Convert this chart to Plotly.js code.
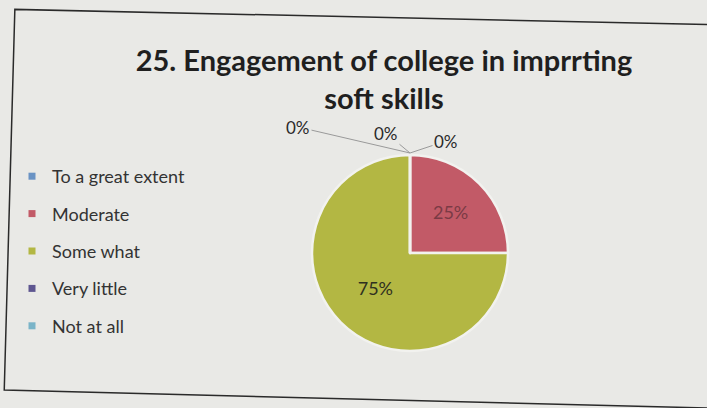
<!DOCTYPE html>
<html>
<head>
<meta charset="utf-8">
<script src="https://cdn.plot.ly/plotly-3.0.1.min.js"></script>
<style>html,body{margin:0;padding:0;background:#e9e9e6;}#chart{width:707px;height:408px;}</style>
</head>
<body>
<div id="chart"></div>
<script>
const categories = ["To a great extent", "Moderate", "Some what", "Very little", "Not at all"];
const values = [0, 25, 75, 0, 0];
const colors = ["#6a93c4", "#c25a67", "#b3b743", "#5e5690", "#7ab4c8"];
const titleText = "25. Engagement of college in imprrting<br>soft skills";

const total = values.reduce((a, b) => a + b, 0);
const pctText = v => Math.round(100 * v / total) + "%";

const pie = {
  type: "pie",
  labels: categories,
  values: values,
  sort: false,
  direction: "clockwise",
  rotation: 0,
  showlegend: false,
  marker: {colors: colors, line: {color: "#f2f2ef", width: 2.5}},
  texttemplate: values.map(v => v > 0 ? "%{percent:.0%}" : ""),
  textposition: "inside",
  insidetextorientation: "horizontal",
  insidetextfont: {family: "Lato, sans-serif", size: 18, color: ["#333", "#7a3a45", "#2f3020", "#333", "#333"]},
  hoverinfo: "label+percent",
  domain: {x: [312 / 707, 508 / 707], y: [1 - 351 / 408, 1 - 155 / 408]}
};

const legendTraces = categories.map((c, i) => ({
  type: "scatter",
  mode: "markers",
  x: [null], y: [null],
  name: c,
  legendgroup: "g" + i,
  marker: {symbol: "square", size: 7, color: colors[i]},
  showlegend: true,
  hoverinfo: "skip"
}));

// zero-slice labels with leader lines toward the top of the pie
const zeroIdx = values.map((v, i) => v === 0 ? i : -1).filter(i => i >= 0);
const zeroOffsets = [[-112, -26], [-24, -20], [36, -12]];
const topX = 410 / 707, topY = 1 - 153 / 408;
const annotations = zeroIdx.map((idx, k) => ({
  xref: "paper", yref: "paper",
  x: topX, y: topY,
  text: pctText(values[idx]),
  showarrow: true, arrowhead: 0, arrowwidth: 1, arrowcolor: "#9a9a9a",
  ax: zeroOffsets[k][0], ay: zeroOffsets[k][1],
  font: {family: "Lato, sans-serif", size: 17, color: "#2a2a2a"}
}));

const layout = {
  width: 707, height: 408,
  margin: {l: 0, r: 0, t: 0, b: 0},
  paper_bgcolor: "#e9e9e6",
  plot_bgcolor: "rgba(0,0,0,0)",
  title: {
    text: titleText,
    x: 384 / 707, xanchor: "center",
    y: 1 - 71 / 408, yanchor: "top",
    font: {family: "Lato, sans-serif", size: 29, color: "#1f1f1f", weight: "bold"}
  },
  xaxis: {visible: false},
  yaxis: {visible: false},
  showlegend: true,
  legend: {
    x: 12 / 707, xanchor: "left",
    y: 1 - 158 / 408, yanchor: "top",
    bgcolor: "rgba(0,0,0,0)",
    font: {family: "Lato, sans-serif", size: 18, color: "#333"},
    tracegroupgap: 11,
    itemwidth: 30
  },
  annotations: annotations,
  shapes: [{
    type: "path", xref: "paper", yref: "paper",
    path: "M 1,0.94 L 0.021,0.977 L 0.006,0.044 L 1,0.0",
    line: {color: "#2a2a2a", width: 1.5},
    fillcolor: "rgba(0,0,0,0)"
  }]
};

Plotly.newPlot("chart", [pie].concat(legendTraces), layout, {displayModeBar: false, staticPlot: true});
</script>
</body>
</html>
